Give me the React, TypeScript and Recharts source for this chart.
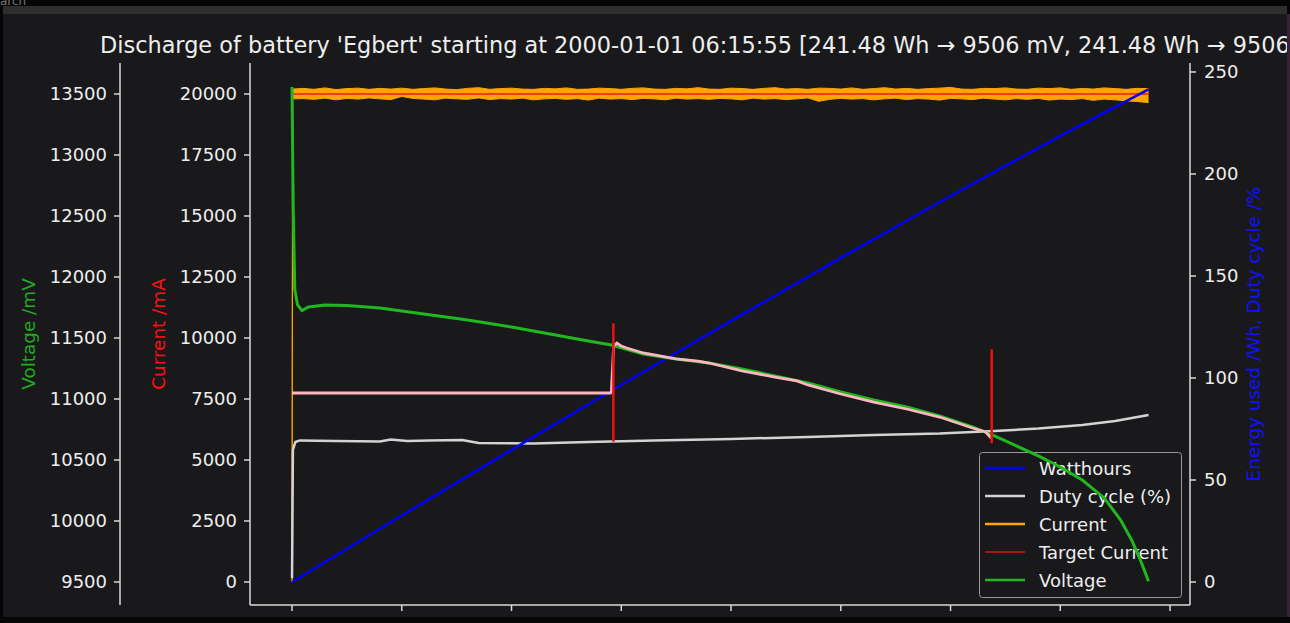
import React from "react";
import { ComposedChart, Line, Area, XAxis, YAxis, ReferenceLine } from "recharts";

const FONT = "'DejaVu Sans', Verdana, sans-serif";
const TEXT = "#eeeeee";
const SPINE = "#d8d8d8";

// time axis, minutes since start (the tick labels are blank in the original)
const timeTicks = [0, 10, 20, 30, 40, 50, 60, 70, 80];
const voltageTicks = [9500, 10000, 10500, 11000, 11500, 12000, 12500, 13000, 13500];
const currentTicks = [0, 2500, 5000, 7500, 10000, 12500, 15000, 17500, 20000];
const energyTicks = [0, 50, 100, 150, 200, 250];

// Voltage /mV
const voltageTime = [0, 0.1, 0.25, 0.5, 0.9, 1.5, 3, 5, 8, 12, 16, 20, 24, 27, 29.1, 32, 35, 38, 41, 44, 47, 50, 53, 56, 59, 62, 64, 66, 68, 70, 72, 74, 75.5, 76.5, 77.3, 78.04];
const voltageValues = [13557, 12600, 11900, 11771, 11725, 11754, 11771, 11767, 11746, 11697, 11648, 11590, 11525, 11475, 11443, 11369, 11328, 11295, 11246, 11189, 11131, 11057, 10992, 10934, 10861, 10771, 10697, 10615, 10533, 10443, 10336, 10189, 10008, 9844, 9680, 9506];

// unlabelled pink trace (mV)
const pinkTime = [0, 29.0, 29.1, 29.15, 29.2, 29.3, 29.6, 30.0, 30.5, 32, 35, 37, 38, 41, 44, 46, 47, 50, 53, 56, 59, 62, 63.2, 63.7];
const pinkValues = [11049, 11049, 11057, 11156, 11238, 11434, 11459, 11434, 11418, 11377, 11328, 11311, 11295, 11230, 11180, 11148, 11115, 11041, 10975, 10918, 10852, 10762, 10730, 10680];

// Duty cycle /%
const dutyTime = [0, 0.08, 0.3, 0.7, 4, 8, 9, 10.5, 12.5, 15.5, 17, 22, 27, 33, 40, 47, 53, 59, 64, 68, 72, 75, 78.04];
const dutyValues = [2, 64.7, 68.6, 69.4, 69.1, 68.9, 69.9, 69.1, 69.4, 69.6, 68.1, 67.9, 68.6, 69.4, 70.1, 71.1, 72.1, 72.8, 74.0, 75.2, 77.0, 78.9, 81.9];

// Energy used /Wh
const energyTime = [0, 10, 20, 30, 40, 50, 60, 70, 78.04];
const energyValues = [0, 32.6, 64.8, 96.7, 128.0, 158.9, 189.2, 218.7, 241.48];

// Current /mA, noisy band drawn as low/high envelope
const currentTime = [
  0, 0.05,
  1, 2, 3, 4, 5, 6, 7, 8, 9, 10,
  11, 12, 13, 14, 15, 16, 17, 18, 19, 20,
  21, 22, 23, 24, 25, 26, 27, 28, 29, 30,
  31, 32, 33, 34, 35, 36, 37, 38, 39, 40,
  41, 42, 43, 44, 45, 46, 47, 48, 49, 50,
  51, 52, 53, 54, 55, 56, 57, 58, 59, 60,
  61, 62, 63, 64, 65, 66, 67, 68, 69, 70,
  71, 72, 73, 74, 75, 76, 77, 78,
  78.04,
];
const currentHigh = [
  0, 20200,
  20230, 20190, 20250, 20180, 20220, 20240, 20190, 20230, 20200, 20240,
  20190, 20220, 20250, 20200, 20180, 20230, 20260, 20190, 20220, 20240,
  20200, 20190, 20230, 20210, 20250, 20190, 20200, 20240, 20220, 20190,
  20230, 20250, 20200, 20190, 20230, 20210, 20260, 20200, 20190, 20240,
  20220, 20190, 20230, 20260, 20200, 20220, 20190, 20240, 20230, 20200,
  20250, 20190, 20220, 20260, 20200, 20230, 20190, 20220, 20240, 20270,
  20200, 20190, 20230, 20220, 20250, 20200, 20190, 20240, 20220, 20250,
  20190, 20230, 20200, 20250, 20220, 20190, 20230, 20220,
  20200,
];
const currentLow = [
  0, 19800,
  19810, 19780, 19830, 19760, 19820, 19790, 19840, 19800, 19770, 19900,
  19820, 19790, 19760, 19830, 19800, 19780, 19840, 19770, 19810, 19790,
  19830, 19760, 19800, 19820, 19780, 19810, 19750, 19830, 19790, 19810,
  19770, 19820, 19800, 19760, 19830, 19790, 19810, 19780, 19820, 19800,
  19760, 19830, 19790, 19810, 19770, 19800, 19840, 19700, 19780, 19820,
  19790, 19810, 19760, 19800, 19830, 19770, 19810, 19790, 19750, 19820,
  19800, 19770, 19830, 19790, 19760, 19810, 19780, 19820, 19750, 19790,
  19770, 19810, 19740, 19790, 19760, 19720, 19690, 19650,
  19640,
];

// Target current /mA
const targetTime = [0.05, 78.04];
const targetValues = [20000, 20000];

// red vertical markers (time, top mA, bottom mA)
const markerTime = [29.28, 63.75];
const markerTop = [10601, 9536];
const markerBottom = [5749, 5684];

const legendNames = ["Watthours", "Duty cycle (%)", "Current", "Target Current", "Voltage"];
const legendColors = ["#0000ff", "#d3d3d3", "#ffa500", "#e01010", "#1fb81f"];
const legendWidths = [2.5, 2.5, 2.5, 1.5, 2.5];

const voltageData = voltageTime.map((t, i) => ({ t, v: voltageValues[i] }));
const pinkData = pinkTime.map((t, i) => ({ t, v: pinkValues[i] }));
const dutyData = dutyTime.map((t, i) => ({ t, v: dutyValues[i] }));
const energyData = energyTime.map((t, i) => ({ t, v: energyValues[i] }));
const currentData = currentTime.map((t, i) => ({ t, band: [currentLow[i], currentHigh[i]] }));
const targetData = targetTime.map((t, i) => ({ t, v: targetValues[i] }));

function AxisTitle(props: any) {
  const { viewBox, text, color, dx } = props;
  if (!viewBox) return null;
  const x = viewBox.x + dx;
  const y = viewBox.y + viewBox.height / 2;
  return (
    <text
      x={x}
      y={y}
      transform={`rotate(-90 ${x} ${y})`}
      textAnchor="middle"
      fill={color}
      fontSize={18.4}
      fontFamily={FONT}
    >
      {text}
    </text>
  );
}

function LegendBox() {
  return (
    <g>
      <rect x={979.5} y={452.5} width={202} height={145} rx={3} fill="#19191b" fillOpacity={0.8} stroke="#9a9a9a" strokeWidth={1} />
      {legendNames.map((name, i) => (
        <g key={name}>
          <line x1={985} x2={1025} y1={468 + i * 28} y2={468 + i * 28} stroke={legendColors[i]} strokeWidth={legendWidths[i]} />
          <text x={1039} y={474.5 + i * 28} fill={TEXT} fontSize={18} fontFamily={FONT}>
            {name}
          </text>
        </g>
      ))}
    </g>
  );
}

const tickStyle = { fill: TEXT, fontSize: 18, fontFamily: FONT };

export default function App() {
  return (
    <div style={{ position: "absolute", left: 0, top: 0, width: 1290, height: 623, background: "#050505", overflow: "hidden" }}>
      <div style={{ position: "absolute", left: 0, top: -6, fontSize: 12, fontFamily: FONT, color: "#777" }}>arch</div>
      <div style={{ position: "absolute", left: 3, top: 6, width: 1284, height: 8, background: "#2e2e2e" }} />
      <div style={{ position: "absolute", left: 3, top: 14, width: 1284, height: 603, background: "#19191b" }} />
      <div style={{ position: "absolute", left: 1287, top: 14, width: 3, height: 603, background: "#3a1f3a" }} />
      <div style={{ position: "absolute", left: 0, top: 0, width: 1287, height: 617, overflow: "hidden" }}>
        <div
          style={{
            position: "absolute",
            left: 100,
            top: 34,
            fontSize: 22.4,
            lineHeight: 1,
            whiteSpace: "nowrap",
            color: TEXT,
            fontFamily: FONT,
          }}
        >
          Discharge of battery 'Egbert' starting at 2000-01-01 06:15:55 [241.48 Wh → 9506 mV, 241.48 Wh → 9506 mV]
        </div>
        <ComposedChart width={1287} height={617} margin={{ top: 63, right: 0, bottom: 0, left: 10 }}>
          <XAxis
            xAxisId="time"
            type="number"
            dataKey="t"
            domain={[-3.83, 81.82]}
            allowDataOverflow
            ticks={timeTicks}
            tickFormatter={() => ""}
            height={12}
            tickSize={6}
            axisLine={{ stroke: SPINE, strokeWidth: 1.5 }}
            tickLine={{ stroke: SPINE, strokeWidth: 1.5 }}
          />
          <XAxis
            xAxisId="frame"
            orientation="top"
            type="number"
            domain={[-3.83, 81.82]}
            allowDataOverflow
            ticks={[]}
            tick={false}
            tickLine={false}
            height={0}
            axisLine={{ stroke: SPINE, strokeWidth: 1.5 }}
          />
          <YAxis
            yAxisId="current"
            orientation="left"
            width={130}
            type="number"
            domain={[-943, 21270]}
            allowDataOverflow
            ticks={currentTicks}
            tick={tickStyle}
            tickSize={6}
            tickMargin={7}
            axisLine={{ stroke: SPINE, strokeWidth: 1.5 }}
            tickLine={{ stroke: SPINE, strokeWidth: 1.5 }}
            label={<AxisTitle text="Current /mA" color="#ff1010" dx={45} />}
          />
          <YAxis
            yAxisId="voltage"
            orientation="left"
            width={110}
            type="number"
            domain={[9311.4, 13754]}
            allowDataOverflow
            ticks={voltageTicks}
            tick={tickStyle}
            tickSize={6}
            tickMargin={7}
            axisLine={{ stroke: SPINE, strokeWidth: 1.5 }}
            tickLine={{ stroke: SPINE, strokeWidth: 1.5 }}
            label={<AxisTitle text="Voltage /mV" color="#22aa22" dx={25} />}
          />
          <YAxis
            yAxisId="energy"
            orientation="right"
            width={97}
            type="number"
            domain={[-11.27, 254.4]}
            allowDataOverflow
            ticks={energyTicks}
            tick={tickStyle}
            tickSize={6}
            tickMargin={8}
            axisLine={{ stroke: SPINE, strokeWidth: 1.5 }}
            tickLine={{ stroke: SPINE, strokeWidth: 1.5 }}
            label={<AxisTitle text="Energy used /Wh, Duty cycle /%" color="#1010ff" dx={70} />}
          />

          <Area
            data={currentData}
            dataKey="band"
            xAxisId="time"
            yAxisId="current"
            type="linear"
            stroke="#ffa500"
            strokeWidth={1}
            fill="#ffa500"
            fillOpacity={1}
            dot={false}
            activeDot={false}
            isAnimationActive={false}
          />
          <Line
            data={targetData}
            dataKey="v"
            xAxisId="time"
            yAxisId="current"
            type="linear"
            stroke="#f01a10"
            strokeWidth={1.6}
            dot={false}
            activeDot={false}
            isAnimationActive={false}
          />
          <Line
            data={dutyData}
            dataKey="v"
            xAxisId="time"
            yAxisId="energy"
            type="linear"
            stroke="#d3d3d3"
            strokeWidth={2.5}
            dot={false}
            activeDot={false}
            isAnimationActive={false}
          />
          <Line
            data={energyData}
            dataKey="v"
            xAxisId="time"
            yAxisId="energy"
            type="linear"
            stroke="#0000ff"
            strokeWidth={2.5}
            dot={false}
            activeDot={false}
            isAnimationActive={false}
          />
          <LegendBox />
          <Line
            data={voltageData}
            dataKey="v"
            xAxisId="time"
            yAxisId="voltage"
            type="linear"
            stroke="#1fb81f"
            strokeWidth={3}
            dot={false}
            activeDot={false}
            isAnimationActive={false}
          />
          <Line
            data={pinkData}
            dataKey="v"
            xAxisId="time"
            yAxisId="voltage"
            type="linear"
            stroke="#ffb6c1"
            strokeWidth={2.8}
            dot={false}
            activeDot={false}
            isAnimationActive={false}
          />
          {markerTime.map((t, i) => (
            <ReferenceLine
              key={t}
              xAxisId="time"
              yAxisId="current"
              segment={[
                { x: t, y: markerTop[i] },
                { x: t, y: markerBottom[i] },
              ]}
              stroke="#ee1111"
              strokeWidth={2.5}
            />
          ))}
        </ComposedChart>
      </div>
    </div>
  );
}
